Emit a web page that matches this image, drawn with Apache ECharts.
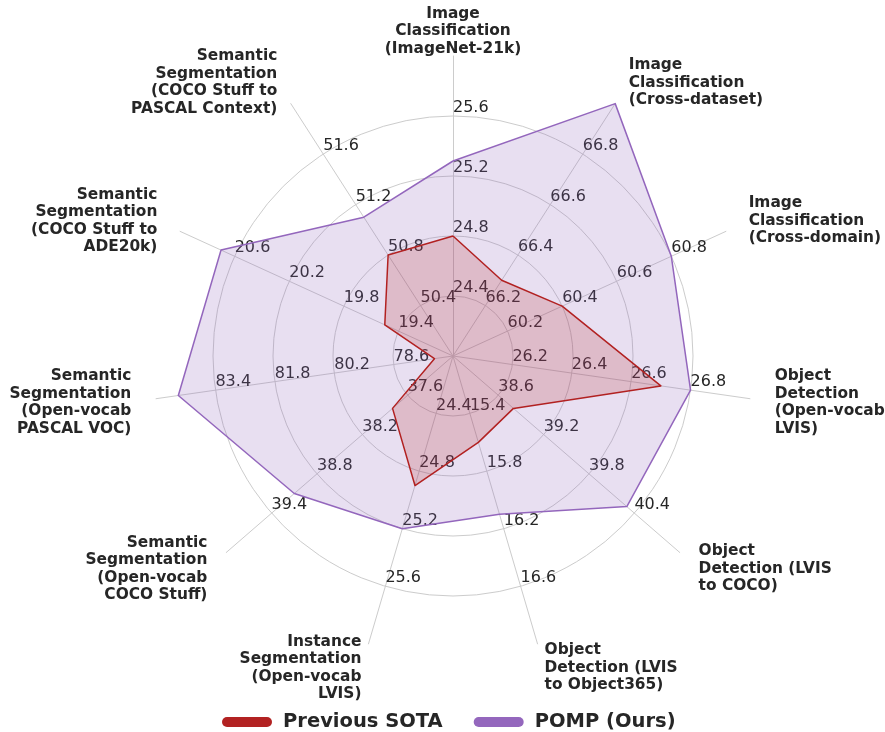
<!DOCTYPE html>
<html>
<head>
<meta charset="utf-8">
<script src="https://cdn.jsdelivr.net/npm/echarts@6/dist/echarts.min.js"></script>
<style>
  html, body { margin: 0; padding: 0; background: #fff; }
  #chart { width: 885px; height: 732px; }
</style>
</head>
<body>
<div id="chart"></div>
<script>
// axes in clockwise order, starting at the top
const axisNames = [
  'Image\nClassification\n(ImageNet-21k)',
  'Image\nClassification\n(Cross-dataset)',
  'Image\nClassification\n(Cross-domain)',
  'Object\nDetection\n(Open-vocab\nLVIS)',
  'Object\nDetection (LVIS\nto COCO)',
  'Object\nDetection (LVIS\nto Object365)',
  'Instance\nSegmentation\n(Open-vocab\nLVIS)',
  'Semantic\nSegmentation\n(Open-vocab\nCOCO Stuff)',
  'Semantic\nSegmentation\n(Open-vocab\nPASCAL VOC)',
  'Semantic\nSegmentation\n(COCO Stuff to\nADE20k)',
  'Semantic\nSegmentation\n(COCO Stuff to\nPASCAL Context)'
];
const axisMin = [24.0, 66.0, 60.0, 26.0, 38.0, 15.0, 24.0, 37.0, 77.0, 19.0, 50.0];
const axisMax = [26.0, 67.0, 61.0, 27.0, 41.0, 17.0, 26.0, 40.0, 85.0, 21.0, 52.0];

const previousSota = [24.8, 66.3, 60.4, 26.7, 38.8, 15.6, 24.9, 37.8, 77.5, 19.5, 50.8];
const pomp = [25.3, 67.0, 60.8, 26.8, 40.3, 16.1, 25.2, 39.1, 84.4, 20.7, 51.1];

// echarts lays indicators out counter-clockwise, so flip the order
const order = [0, 10, 9, 8, 7, 6, 5, 4, 3, 2, 1];
const pick = arr => order.map(i => arr[i]);

const font = 'DejaVu Sans';
const chart = echarts.init(document.getElementById('chart'));

const option = {
  animation: false,
  backgroundColor: '#ffffff',
  legend: {
    data: ['Previous SOTA', 'POMP (Ours)'],
    top: 707,
    left: 217,
    itemWidth: 50,
    itemHeight: 10,
    itemGap: 31,
    icon: 'path://M5,0 L45,0 A5,5 0 0 1 45,10 L5,10 A5,5 0 0 1 5,0 Z',
    textStyle: {
      fontFamily: font,
      fontWeight: 'bold',
      fontSize: 19.5,
      color: '#262626',
      padding: [0, 0, 0, 6]
    }
  },
  radar: {
    center: [453, 356],
    radius: 300,
    startAngle: 90,
    shape: 'circle',
    splitNumber: 5,
    indicator: order.map(i => ({ name: axisNames[i], min: axisMin[i], max: axisMax[i] })),
    axisNameGap: 25,
    axisName: {
      color: '#262626',
      fontFamily: font,
      fontWeight: 'bold',
      fontSize: 15.4,
      lineHeight: 17.5,
      verticalAlign: 'middle'
    },
    axisLine: { lineStyle: { color: '#cccccc', width: 1 } },
    axisTick: { show: false },
    splitArea: { show: false },
    splitLine: {
      lineStyle: {
        color: ['#cccccc', '#cccccc', '#cccccc', '#cccccc', '#cccccc', 'rgba(0,0,0,0)'],
        width: 1
      }
    },
    axisLabel: {
      show: true,
      margin: 0,
      align: 'left',
      verticalAlign: 'bottom',
      fontFamily: font,
      fontSize: 16,
      color: '#262626',
      formatter: function (v, idx) {
        if (idx === 0 || idx === 5) return '';
        return Number(v).toFixed(1);
      }
    }
  },
  series: [
    {
      name: 'POMP (Ours)',
      type: 'radar',
      z: 2,
      symbol: 'none',
      itemStyle: { color: '#9467bd' },
      lineStyle: { color: '#9467bd', width: 1.5 },
      areaStyle: { color: 'rgba(148,103,189,0.21)', opacity: 1 },
      data: [{ name: 'POMP (Ours)', value: pick(pomp) }]
    },
    {
      name: 'Previous SOTA',
      type: 'radar',
      z: 3,
      symbol: 'none',
      itemStyle: { color: '#b22222' },
      lineStyle: { color: '#b22222', width: 1.5 },
      areaStyle: { color: 'rgba(178,34,34,0.19)', opacity: 1 },
      data: [{ name: 'Previous SOTA', value: pick(previousSota) }]
    }
  ]
};

chart.setOption(option);
</script>
</body>
</html>
